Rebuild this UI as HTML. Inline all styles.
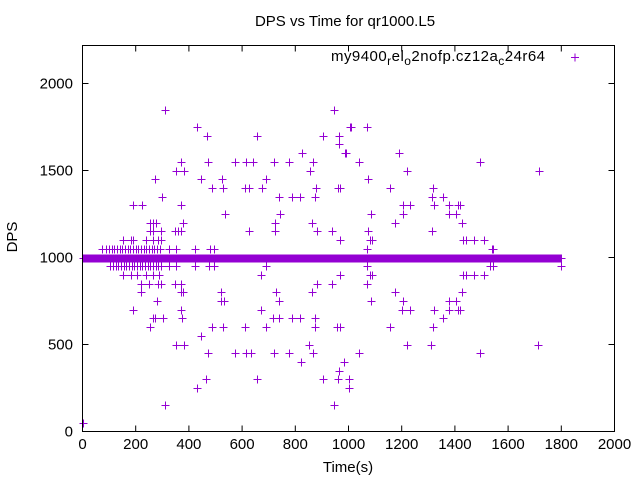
<!DOCTYPE html>
<html><head><meta charset="utf-8"><style>
body{margin:0;background:#fff}
svg text{font-family:"Liberation Sans",sans-serif;fill:#000}
</style></head><body>
<svg id="chart" width="640" height="480" viewBox="0 0 640 480" xmlns="http://www.w3.org/2000/svg">
<rect width="640" height="480" fill="#fff"/>
<text x="345" y="26" font-size="15" text-anchor="middle">DPS vs Time for qr1000.L5</text>
<text transform="translate(17,237) rotate(-90)" font-size="15" text-anchor="middle">DPS</text>
<text x="348" y="472" font-size="15" text-anchor="middle">Time(s)</text>
<g id="ticks"></g>
<g id="points"></g>
<rect x="82.5" y="45.5" width="532" height="386" fill="none" stroke="#000" stroke-width="1"/>
<g>
<text x="331" y="61" font-size="15" textLength="214" lengthAdjust="spacing">my9400<tspan font-size="12" dy="4">r</tspan><tspan dy="-4">el</tspan><tspan font-size="12" dy="4">o</tspan><tspan dy="-4">2nofp.cz12a</tspan><tspan font-size="12" dy="4">c</tspan><tspan dy="-4">24r64</tspan></text>
<path d="M571 57.5h8M575 53.5v8" stroke="#9400d3" stroke-width="1"/>
</g>
</svg>
<script>
const xTicks=[0,200,400,600,800,1000,1200,1400,1600,1800,2000];
const yTicks=[0,500,1000,1500,2000];
const lineTimes=[];for(let t=0;t<=1800;t+=3)lineTimes.push(t);
const outlierTimes=[0,310,945,430,1007,1008,1071,468,657,905,965,965,825,988,989,1191,370,471,574,616,642,720,777,868,1041,1493,353,383,855,1219,1716,272,446,525,690,1075,487,528,612,626,675,879,962,969,1157,1319,298,737,788,819,875,1314,1357,191,222,370,1205,1233,1323,1376,1413,1421,536,743,1086,1205,1377,1406,254,266,275,379,724,864,1176,1426,254,266,294,347,360,370,626,724,882,939,1075,1314,152,181,189,238,266,285,294,969,1081,1088,1431,1441,1473,1508];
const outlierDps=[50,1850,1850,1750,1750,1750,1750,1700,1700,1700,1700,1650,1600,1600,1600,1600,1550,1550,1550,1550,1550,1550,1550,1550,1550,1550,1500,1500,1500,1500,1500,1450,1450,1450,1450,1450,1400,1400,1400,1400,1400,1400,1400,1400,1400,1400,1350,1350,1350,1350,1350,1350,1350,1300,1300,1300,1300,1300,1300,1300,1300,1300,1250,1250,1250,1250,1250,1250,1200,1200,1200,1200,1200,1200,1200,1200,1150,1150,1150,1150,1150,1150,1150,1150,1150,1150,1150,1150,1100,1100,1100,1100,1100,1100,1100,1100,1100,1100,1100,1100,1100,1100];
const lowTimes=[310,945,430,1003,464,657,906,962,1003,965,822,984,471,574,616,634,720,777,866,1038,1493,353,383,852,1219,1311,1712,446,254,487,528,612,690,875,958,969,1157,1319,266,272,302,373,718,737,788,819,875,1357,189,370,672,1202,1233,1323,1376,1413,1421,280,521,532,740,1086,1205,1376,1406,220,370,379,521,727,864,1173,1425,220,251,285,294,347,370,882,939,1071,152,181,206,238,266,286,672,969,1081,1088,1431,1441,1473,1508];
const lowDps=[150,150,250,250,300,300,300,300,300,350,400,400,450,450,450,450,450,450,450,450,450,500,500,500,500,500,500,550,600,600,600,600,600,600,600,600,600,600,650,650,650,650,650,650,650,650,650,650,700,700,700,700,700,700,700,700,700,750,750,750,750,750,750,750,750,800,800,800,800,800,800,800,800,850,850,850,850,850,850,850,850,850,900,900,900,900,900,900,900,900,900,900,900,900,900,900];
const t1050=[74,90,100,110,120,130,140,150,160,170,180,190,200,210,220,230,240,250,260,270,280,290,325,353,423,478,495,1071,1540,1543];
const t950=[105,115,125,135,145,155,165,175,185,195,205,215,225,235,245,255,265,275,285,294,326,350,423,474,495,690,1071,1533,1543,1799];
const X=v=>82.5+v*(532/2000);
const Y=v=>431.5-v*(348/2000);
const NS='http://www.w3.org/2000/svg';
const tg=document.getElementById('ticks');
xTicks.forEach(t=>{
 const p=document.createElementNS(NS,'path');
 p.setAttribute('d',`M${X(t)} 431.5v-6M${X(t)} 45.5v6`);p.setAttribute('stroke','#000');
 
 
 tg.appendChild(p);
 const s=document.createElementNS(NS,'text');
 s.setAttribute('x',X(t));s.setAttribute('y',449);s.setAttribute('font-size','15');s.setAttribute('text-anchor','middle');s.textContent=t;
 
 
 tg.appendChild(s);
});
yTicks.forEach(t=>{
 const p=document.createElementNS(NS,'path');
 p.setAttribute('d',`M82.5 ${Y(t)}h6M614.5 ${Y(t)}h-6`);p.setAttribute('stroke','#000');
 
 
 tg.appendChild(p);
 const s=document.createElementNS(NS,'text');
 s.setAttribute('x',73);s.setAttribute('y',Y(t)+5);s.setAttribute('font-size','15');s.setAttribute('text-anchor','end');s.textContent=t;
 
 
 tg.appendChild(s);
});
let d='';
const add=(t,v)=>{const x=Math.round(X(t))+0.5,y=Math.round(Y(v))+0.5;d+=`M${x-4} ${y}h8M${x} ${y-4}v8`;};
lineTimes.forEach(t=>add(t,1000));
outlierTimes.forEach((t,i)=>add(t,outlierDps[i]));
lowTimes.forEach((t,i)=>add(t,lowDps[i]));
t1050.forEach(t=>add(t,1050));
t950.forEach(t=>add(t,950));
const pp=document.createElementNS(NS,'path');
pp.setAttribute('d',d);pp.setAttribute('stroke','#9400d3');pp.setAttribute('stroke-width','1');pp.setAttribute('fill','none');


document.getElementById('points').appendChild(pp);
</script>
</body></html>
